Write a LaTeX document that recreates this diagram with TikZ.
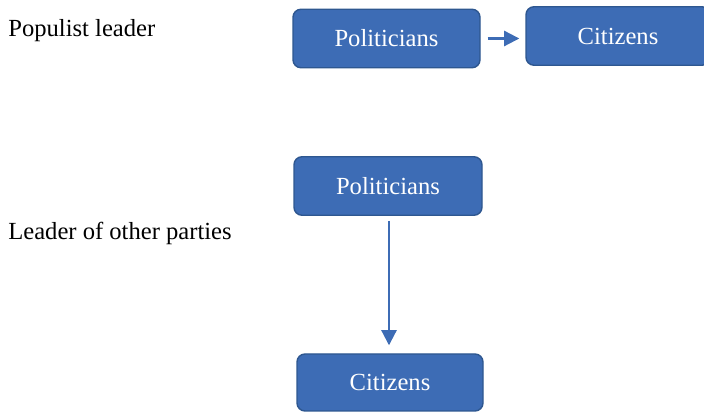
\documentclass[tikz,border=0pt]{standalone}
\usepackage{fontspec}
\setmainfont{Liberation Serif}
\usetikzlibrary{arrows.meta,positioning}
\definecolor{boxblue}{HTML}{3D6CB5}
\definecolor{boxedge}{HTML}{2E5790}
\tikzset{
 actor/.style={draw=boxedge, fill=boxblue, rounded corners=0.16cm, line width=0.8pt, text=white,
  minimum width=3.74cm, minimum height=1.17cm, inner sep=0pt, font=\fontsize{14}{16}\selectfont},
 flow/.style={draw=boxblue, line width=1.2pt, -{Triangle[width=8.6pt,length=8.6pt]}},
 side/.style={anchor=base west, inner sep=0pt, font=\fontsize{14}{16}\selectfont}
}

\begin{document}
\begin{tikzpicture}
 \useasboundingbox (0,0) rectangle (14.08,8.24);
 % populist leader
 \node[side] (populist) at (0.16,7.5) {Populist leader};
 \node[actor] (polA) at (7.73,7.47) {Politicians};
 \node[actor, minimum width=3.68cm] (citA) at (12.36,7.52) {Citizens};
 \draw[flow, shorten <=0.14cm, shorten >=0.12cm] (polA.east) -- (citA.west |- polA.east);
 % other parties
 \node[side] (others) at (0.16,3.44) {Leader of other parties};
 \node[actor, minimum width=3.76cm] (polB) at (7.76,4.52) {Politicians};
 \node[actor, minimum width=3.72cm, minimum height=1.14cm] (citB) at (7.80,0.59) {Citizens};
 \draw[flow, shorten <=0.1cm, shorten >=0.16cm] (polB.south -| 7.78,0) -- (citB.north -| 7.78,0);
\end{tikzpicture}
\end{document}
